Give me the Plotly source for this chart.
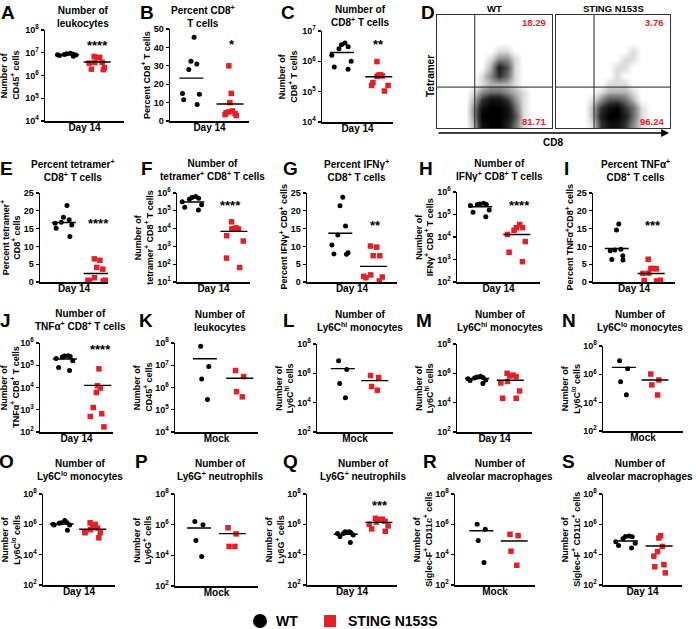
import plotly.graph_objects as go

W, H = 696, 629
RED = "#e41f26"
FONT = "Liberation Sans, Arial, Helvetica, sans-serif"

# ------------------------------------------------------------------
# Data (WT = black circles, STING N153S = red squares)
# *_mean : horizontal bar value for [WT, STING N153S]
# ------------------------------------------------------------------
A_wt = [9.6e6, 9.0e6, 8.7e6, 8.4e6, 8.2e6, 7.9e6, 7.5e6, 7.1e6]
A_mut = [6.9e6, 6.3e6, 6.0e6, 3.8e6, 3.7e6, 3.5e6, 2.2e6, 1.9e6, 1.8e6]
A_mean = [8.2e6, 3.9e6]

B_wt = [45.5, 32.5, 31, 28, 15, 14.5, 11.5, 9]
B_mut = [30, 15, 10, 5.5, 5, 4.5, 4, 3.5, 3]
B_mean = [23.3, 9.2]

C_wt = [4.0e6, 3.5e6, 3.0e6, 2.6e6, 1.6e6, 1.0e6, 6.5e5, 5.5e5]
C_mut = [9.8e5, 3.6e5, 3.3e5, 3.2e5, 3.5e5, 1.6e5, 1.6e5, 1.05e5, 2.0e5]
C_mean = [1.95e6, 3.1e5]

E_wt = [21.5, 18.2, 17.5, 16.8, 16.5, 16.0, 15.1, 12.8]
E_mut = [6.5, 6.1, 4.1, 3.6, 1.2, 0.5, 0.3, 0.3, 0.5]
E_mean = [16.7, 2.4]

F_wt = [5.6e5, 6.3e5, 5.0e5, 4.5e5, 3.2e5, 2.2e5, 1.6e5, 1.1e5]
F_mut = [2.4e4, 1.1e4, 9.5e3, 9.5e3, 1.0e4, 4.0e3, 2.0e3, 2.2e2, 6.5e1]
F_mean = [3.1e5, 7.0e3]

G_wt = [23.8, 21.4, 15.7, 13.2, 10.4, 8.2, 7.9, 7.8]
G_mut = [10.1, 9.8, 7.4, 7.4, 2.0, 1.6, 1.4, 1.2, 0.3]
G_mean = [13.7, 4.4]

H_wt = [3.2e5, 2.95e5, 2.8e5, 2.8e5, 2.5e5, 1.6e5, 1.25e5, 8.0e4]
H_mut = [3.6e4, 2.6e4, 2.6e4, 2.0e4, 1.3e4, 6.3e3, 2.1e3, 8.0e2]
H_mean = [2.2e5, 1.3e4]

I_wt = [16.3, 14.6, 9.2, 9.0, 8.8, 7.4, 6.3, 6.2]
I_mut = [6.4, 3.8, 3.8, 3.7, 2.5, 2.4, 0.5, 0.4, 0.3]
I_mean = [9.4, 2.4]

J_wt = [2.7e5, 2.6e5, 2.5e5, 2.35e5, 2.0e5, 1.6e5, 8.0e4, 5.8e4]
J_mut = [6.9e4, 1.2e4, 9.5e3, 6.0e3, 1.26e3, 6.6e2, 5.0e2, 1.7e2]
J_mean = [1.9e5, 1.25e4]

K_wt = [7.1e7, 8.7e6, 2.4e6, 2.9e5]
K_mut = [5.8e6, 3.1e6, 6.5e5, 3.8e5]
K_mean = [1.95e7, 2.6e6]

L_wt = [7.2e6, 1.8e6, 2.0e5, 2.2e4]
L_mut = [7.1e5, 5.2e5, 1.26e5, 7.1e4]
L_mean = [2.1e6, 3.2e5]

M_wt = [6.3e5, 5.6e5, 5.2e5, 4.8e5, 4.2e5, 3.5e5, 3.2e5, 2.0e5]
M_mut = [1.0e6, 7.6e5, 6.6e5, 6.0e5, 2.8e5, 2.2e5, 6.3e4, 2.0e4, 2.0e4]
M_mean = [4.4e5, 3.4e5]

N_wt = [9.1e6, 2.5e6, 3.0e5, 3.6e4]
N_mut = [1.05e6, 4.0e5, 1.8e5, 3.5e4]
N_mean = [3.1e6, 4.0e5]

O_wt = [1.8e6, 1.26e6, 1.2e6, 1.26e6, 1.0e6, 8.9e5, 8.9e5, 4.0e5]
O_mut = [1.26e6, 1.0e6, 6.3e5, 5.6e5, 4.5e5, 3.2e5, 2.8e5, 2.8e5, 1.3e5]
O_mean = [1.05e6, 4.7e5]

P_wt = [1.6e6, 1.0e6, 9.3e4, 8.3e3]
P_mut = [6.3e5, 2.5e5, 3.8e4, 3.8e4]
P_mean = [6.0e5, 2.6e5]

Q_wt = [3.2e5, 2.8e5, 2.5e5, 2.5e5, 3.2e5, 2.0e5, 1.6e5, 6.3e4]
Q_mut = [2.5e6, 2.2e6, 2.0e6, 1.6e6, 1.4e6, 1.0e6, 7.9e5, 5.0e5, 3.5e5]
Q_mean = [2.2e5, 1.35e6]

R_wt = [1.0e6, 4.7e5, 8.5e4, 3.0e3]
R_mut = [2.2e5, 1.8e5, 1.7e4, 2.0e3]
R_mean = [3.8e5, 8.0e4]

S_wt = [1.7e5, 1.5e5, 1.1e5, 1.6e5, 5.6e4, 2.8e4, 4.0e4, 7.1e4]
S_mut = [1.8e5, 1.26e5, 3.5e4, 1.6e4, 8.0e3, 2.2e3, 1.6e3, 6.3e2]
S_mean = [8.0e4, 3.7e4]

# Flow cytometry (panel D): event density on a 14 x 14 grid (rows top -> bottom, 0-9)
D_wt_density = [
    "00000000000000",
    "00000000000000",
    "00000000000000",
    "00000000000000",
    "00000001100000",
    "00000013310000",
    "00000027510000",
    "00000136410000",
    "00000122210000",
    "00001344321000",
    "00002688631000",
    "00003899841000",
    "00003999851000",
    "00002899741000",
]
D_mut_density = [
    "00000000000000",
    "00000000000000",
    "00000000000000",
    "00000000000000",
    "00000000010000",
    "00000000110000",
    "00000001100000",
    "00000001000000",
    "00000011100000",
    "00000122210000",
    "00001355420000",
    "00002689641000",
    "00002799741000",
    "00001688631000",
]
D_pct_wt = ["18.29", "81.71"]
D_pct_mut = ["3.76", "96.24"]

# ------------------------------------------------------------------
# Panel definitions (text + axis type)
# ------------------------------------------------------------------
S_ = "<sup>+</sup>"
panels = [
    dict(k="A", wt=A_wt, mut=A_mut, mean=A_mean, log=(4, 8, 1), grp="Day 14",
         yt="Number of<br>CD45" + S_ + " cells", t="Number of<br>leukocytes", st="****"),
    dict(k="B", wt=B_wt, mut=B_mut, mean=B_mean, lin=(0, 50, 10), grp="Day 14",
         yt="Percent CD8" + S_ + " T cells", t="Percent CD8" + S_ + "<br>T cells", st="*"),
    dict(k="C", wt=C_wt, mut=C_mut, mean=C_mean, log=(4, 7, 1), grp="Day 14",
         yt="Number of<br>CD8" + S_ + " T cells", t="Number of<br>CD8" + S_ + " T cells", st="**"),
    dict(k="E", wt=E_wt, mut=E_mut, mean=E_mean, lin=(0, 25, 5), grp="Day 14",
         yt="Percent tetramer" + S_ + "<br>CD8" + S_ + " cells",
         t="Percent tetramer" + S_ + "<br>CD8" + S_ + " T cells", st="****"),
    dict(k="F", wt=F_wt, mut=F_mut, mean=F_mean, log=(1, 6, 1), grp="Day 14",
         yt="Number of<br>tetramer" + S_ + " CD8" + S_ + " T cells",
         t="Number of<br>tetramer" + S_ + " CD8" + S_ + " T cells", st="****"),
    dict(k="G", wt=G_wt, mut=G_mut, mean=G_mean, lin=(0, 25, 5), grp="Day 14",
         yt="Percent IFNγ" + S_ + " CD8" + S_ + " cells",
         t="Percent IFNγ" + S_ + "<br>CD8" + S_ + " T cells", st="**"),
    dict(k="H", wt=H_wt, mut=H_mut, mean=H_mean, log=(2, 6, 1), grp="Day 14",
         yt="Number of<br>IFNγ" + S_ + " CD8" + S_ + " T cells",
         t="Number of<br>IFNγ" + S_ + " CD8" + S_ + " T cells", st="****"),
    dict(k="I", wt=I_wt, mut=I_mut, mean=I_mean, lin=(0, 25, 5), grp="Day 14",
         yt="Percent TNFα" + S_ + "CD8" + S_ + " cells",
         t="Percent TNFα" + S_ + "<br>CD8" + S_ + " T cells", st="***"),
    dict(k="J", wt=J_wt, mut=J_mut, mean=J_mean, log=(2, 6, 1), grp="Day 14",
         yt="Number of<br>TNFα" + S_ + " CD8" + S_ + " T cells",
         t="Number of<br>TNFα" + S_ + " CD8" + S_ + " T cells", st="****"),
    dict(k="K", wt=K_wt, mut=K_mut, mean=K_mean, log=(4, 8, 1), grp="Mock",
         yt="Number of<br>CD45" + S_ + " cells", t="Number of<br>leukocytes", st=""),
    dict(k="L", wt=L_wt, mut=L_mut, mean=L_mean, log=(2, 8, 2), grp="Mock",
         yt="Number of<br>Ly6C<sup>hi</sup> cells", t="Number of<br>Ly6C<sup>hi</sup> monocytes", st=""),
    dict(k="M", wt=M_wt, mut=M_mut, mean=M_mean, log=(2, 8, 2), grp="Day 14",
         yt="Number of<br>Ly6C<sup>hi</sup> cells", t="Number of<br>Ly6C<sup>hi</sup> monocytes", st=""),
    dict(k="N", wt=N_wt, mut=N_mut, mean=N_mean, log=(2, 8, 2), grp="Mock",
         yt="Number of<br>Ly6C<sup>lo</sup> cells", t="Number of<br>Ly6C<sup>lo</sup> monocytes", st=""),
    dict(k="O", wt=O_wt, mut=O_mut, mean=O_mean, log=(2, 8, 2), grp="Day 14",
         yt="Number of<br>Ly6C<sup>lo</sup> cells", t="Number of<br>Ly6C<sup>lo</sup> monocytes", st=""),
    dict(k="P", wt=P_wt, mut=P_mut, mean=P_mean, log=(2, 8, 2), grp="Mock",
         yt="Number of<br>Ly6G" + S_ + " cells", t="Number of<br>Ly6G" + S_ + " neutrophils", st=""),
    dict(k="Q", wt=Q_wt, mut=Q_mut, mean=Q_mean, log=(2, 8, 2), grp="Day 14",
         yt="Number of<br>Ly6G" + S_ + " cells", t="Number of<br>Ly6G" + S_ + " neutrophils", st="***"),
    dict(k="R", wt=R_wt, mut=R_mut, mean=R_mean, log=(2, 8, 2), grp="Mock",
         yt="Number of<br>Siglec-F" + S_ + " CD11c" + S_ + " cells",
         t="Number of<br>alveolar macrophages", st=""),
    dict(k="S", wt=S_wt, mut=S_mut, mean=S_mean, log=(2, 8, 2), grp="Day 14",
         yt="Number of<br>Siglec-F" + S_ + " CD11c" + S_ + " cells",
         t="Number of<br>alveolar macrophages", st=""),
]

# ------------------------------------------------------------------
# Layout geometry in pixels (style only)
# x0,x1: x-axis extent; yt,yb: top tick / axis line; f1,f2: group positions (fraction);
# tx,ty: title centre; lx,ly: panel letter; sx,sy: asterisks; qx: y-title centre
# ------------------------------------------------------------------
geom = {
    "A": dict(x0=45, x1=124, yt=30, yb=121, f1=.28, f2=.66, tx=83, ty=17, lx=8, ly=12, sx=97, sy=45, qx=10),
    "B": dict(x0=170, x1=249, yt=29, yb=121, f1=.27, f2=.76, tx=203, ty=17, lx=147, ly=12, sx=232, sy=44, qx=146),
    "C": dict(x0=322, x1=393, yt=31, yb=122, f1=.28, f2=.80, tx=360, ty=16, lx=288, ly=12, sx=378, sy=44, qx=288),
    "E": dict(x0=40, x1=108, yt=193, yb=282, f1=.35, f2=.84, tx=73, ty=170, lx=6, ly=168, sx=98, sy=224, qx=10),
    "F": dict(x0=177, x1=250, yt=193, yb=282, f1=.21, f2=.78, tx=213, ty=170, lx=147, ly=168, sx=230, sy=205, qx=143),
    "G": dict(x0=307, x1=397, yt=193, yb=282, f1=.37, f2=.74, tx=356, ty=170, lx=290, ly=168, sx=375, sy=225, qx=283),
    "H": dict(x0=457, x1=540, yt=192, yb=282, f1=.28, f2=.72, tx=500, ty=170, lx=426, ly=168, sx=519, sy=205, qx=424),
    "I": dict(x0=593, x1=675, yt=193, yb=282, f1=.29, f2=.71, tx=635, ty=170, lx=566, ly=168, sx=653, sy=225, qx=569),
    "J": dict(x0=40, x1=113, yt=343, yb=432, f1=.34, f2=.79, tx=80, ty=320, lx=5, ly=320, sx=100, sy=350, qx=9),
    "K": dict(x0=175, x1=258, yt=343, yb=432, f1=.36, f2=.78, tx=220, ty=321, lx=146, ly=320, qx=142),
    "L": dict(x0=317, x1=393, yt=344, yb=432, f1=.34, f2=.76, tx=360, ty=321, lx=289, ly=320, qx=284),
    "M": dict(x0=457, x1=532, yt=344, yb=432, f1=.27, f2=.71, tx=500, ty=321, lx=424, ly=320, qx=424),
    "N": dict(x0=603, x1=683, yt=346, yb=431, f1=.26, f2=.65, tx=640, ty=321, lx=569, ly=320, qx=570),
    "O": dict(x0=43, x1=115, yt=494, yb=585, f1=.26, f2=.69, tx=80, ty=470, lx=6, ly=461, qx=10),
    "P": dict(x0=175, x1=258, yt=494, yb=586, f1=.29, f2=.69, tx=220, ty=470, lx=141, ly=461, qx=142),
    "Q": dict(x0=307, x1=397, yt=494, yb=585, f1=.43, f2=.80, tx=363, ty=470, lx=290, ly=461, sx=380, sy=505, qx=274),
    "R": dict(x0=455, x1=535, yt=494, yb=585, f1=.33, f2=.74, tx=500, ty=470, lx=430, ly=461, qx=422),
    "S": dict(x0=603, x1=682, yt=494, yb=585, f1=.29, f2=.71, tx=640, ty=470, lx=568, ly=461, qx=570),
}
YT_LINE = 10.5  # spacing of the two lines of a y-axis title (px)


def px(x):
    return x / W


def py(y):
    return 1 - y / H


fig = go.Figure()
lay = {}
ann = []
shapes = []

bold = dict(family=FONT, color="black", weight="bold")


def label(text, x, y, size, xanchor="center", color="black", angle=0):
    return dict(text=text, x=px(x), y=py(y), xref="paper", yref="paper", showarrow=False,
                xanchor=xanchor, yanchor="middle", textangle=angle,
                font=dict(bold, size=size, color=color))


for i, p in enumerate(panels, start=1):
    g = geom[p["k"]]
    sfx = "" if i == 1 else str(i)
    xa, ya = "x" + sfx, "y" + sfx
    f1, f2 = g["f1"], g["f2"]
    r0 = 1 - f1 / (f2 - f1)
    r1 = 1 + (1 - f1) / (f2 - f1)
    unit = (f2 - f1) * (g["x1"] - g["x0"])  # px per category step
    n_wt = len(p["wt"])
    spread = 12 if n_wt > 5 else 5
    jw = 2 * spread / unit
    mw_wt = 24 / unit
    mw_mut = 27 / unit

    for pos, vals, col, sym, sz in [(1, p["wt"], "black", "circle", 5),
                                     (2, p["mut"], RED, "square", 5.5)]:
        fig.add_trace(go.Box(
            y=vals, x0=pos, width=jw, boxpoints="all", jitter=1, pointpos=0,
            marker=dict(color=col, size=sz, symbol=sym, line=dict(width=0)),
            line=dict(width=0, color="rgba(0,0,0,0)"), fillcolor="rgba(0,0,0,0)",
            whiskerwidth=0, hoverinfo="skip", showlegend=False, xaxis=xa, yaxis=ya))
    for pos, m, mw in [(1, p["mean"][0], mw_wt), (2, p["mean"][1], mw_mut)]:
        fig.add_trace(go.Box(
            x=[pos], q1=[m], median=[m], q3=[m], lowerfence=[m], upperfence=[m],
            width=mw, boxpoints=False, line=dict(color="black", width=1.4),
            fillcolor="rgba(0,0,0,0)", whiskerwidth=0, hoverinfo="skip",
            showlegend=False, xaxis=xa, yaxis=ya))

    xd = [px(g["x0"]), px(g["x1"])]
    yd = [py(g["yb"]), py(g["yt"])]
    lay["xaxis" + sfx] = dict(
        domain=xd, range=[r0, r1], anchor=ya, showline=True, linecolor="black",
        linewidth=1.5, showgrid=False, zeroline=False, ticks="", showticklabels=False,
        title=dict(text=p["grp"], font=dict(bold, size=10), standoff=2), fixedrange=True)
    ycfg = dict(domain=yd, anchor=xa, showline=True, linecolor="black", linewidth=1.5,
                showgrid=False, zeroline=False, ticks="outside", ticklen=3, tickwidth=1.3,
                tickcolor="black", tickfont=dict(bold, size=9), fixedrange=True)
    if "log" in p:
        lo, hi, st = p["log"]
        ycfg.update(type="log", range=[lo, hi],
                    tickvals=[10 ** k for k in range(lo, hi + 1, st)],
                    ticktext=["10<sup>%d</sup>" % k for k in range(lo, hi + 1, st)])
    else:
        lo, hi, st = p["lin"]
        ycfg.update(type="linear", range=[lo, hi], tick0=0, dtick=st)
    lay["yaxis" + sfx] = ycfg

    # y-axis title: one rotated annotation per line
    lines = p["yt"].split("<br>")
    n = len(lines)
    for kk, txt in enumerate(lines):
        cx = g["qx"] + (kk - (n - 1) / 2) * YT_LINE
        ann.append(label(txt, cx, (g["yt"] + g["yb"]) / 2, 9, angle=-90))
    ann.append(label(p["t"], g["tx"], g["ty"], 10))
    ann.append(label(p["k"], g["lx"], g["ly"], 19))
    if p["st"]:
        ann.append(label(p["st"], g["sx"], g["sy"], 13))

# ------------------------- panel D (flow plots) -------------------------
flow = [
    (D_wt_density, D_pct_wt, "WT", 437, 552, 4.1),
    (D_mut_density, D_pct_mut, "STING N153S", 556, 670, 4.17),
]
gate_row = 8.43
nA = len(panels)
for j, (dens, pct, name, bx0, bx1, gate_col) in enumerate(flow):
    idx = nA + 1 + j
    xa, ya = "x%d" % idx, "y%d" % idx
    z = [[int(c) for c in row] for row in dens]
    fig.add_trace(go.Heatmap(
        z=z, zmin=0, zmax=9, zsmooth="best", showscale=False, hoverinfo="skip",
        colorscale=[[0, "white"], [0.11, "#dcdcdc"], [0.33, "#8c8c8c"], [0.66, "#303030"],
                    [1, "black"]],
        xaxis=xa, yaxis=ya))
    lay["xaxis%d" % idx] = dict(domain=[px(bx0), px(bx1)], range=[-0.5, 13.5], anchor=ya,
                                showline=True, mirror=True, linecolor="#333", linewidth=1,
                                ticks="", showticklabels=False, showgrid=False, zeroline=False,
                                fixedrange=True)
    lay["yaxis%d" % idx] = dict(domain=[py(128), py(15)], range=[13.5, -0.5], anchor=xa,
                                showline=True, mirror=True, linecolor="#333", linewidth=1,
                                ticks="", showticklabels=False, showgrid=False, zeroline=False,
                                fixedrange=True)
    shapes.append(dict(type="line", xref=xa, yref=ya, x0=gate_col, x1=gate_col, y0=-0.5, y1=13.5,
                       line=dict(color="#222", width=1)))
    shapes.append(dict(type="line", xref=xa, yref=ya, x0=-0.5, x1=13.5, y0=gate_row, y1=gate_row,
                       line=dict(color="#222", width=1)))
    ann.append(label(name, (bx0 + bx1) / 2, 8, 9.5))
    ann.append(label(pct[0], bx1 - 4, 23, 9.5, xanchor="right", color=RED))
    ann.append(label(pct[1], bx1 - 4, 122, 9.5, xanchor="right", color=RED))

ann.append(label("D", 428, 12, 19))
ann.append(dict(text="", x=px(669), y=py(133), xref="paper", yref="paper", showarrow=True,
                ax=-232, ay=0, axref="pixel", ayref="pixel", arrowhead=2, arrowsize=1.2,
                arrowwidth=1.3, arrowcolor="black"))
ann.append(label("CD8", 553, 142, 10))
ann.append(label("Tetramer", 430, 76, 10, angle=-90))

# ------------------------- legend -------------------------
shapes.append(dict(type="circle", xref="paper", yref="paper", x0=px(253), x1=px(267),
                   y0=py(628), y1=py(614), fillcolor="black", line=dict(width=0)))
shapes.append(dict(type="rect", xref="paper", yref="paper", x0=px(324), x1=px(336),
                   y0=py(627), y1=py(615), fillcolor=RED, line=dict(width=0)))
ann.append(label("WT", 274, 621, 14, xanchor="left"))
ann.append(label("STING N153S", 346, 621, 14, xanchor="left"))

fig.update_layout(
    width=W, height=H, margin=dict(l=0, r=0, t=0, b=0, autoexpand=False),
    paper_bgcolor="white", plot_bgcolor="rgba(0,0,0,0)", showlegend=False,
    font=dict(family=FONT, color="black"), annotations=ann, shapes=shapes, **lay)

fig.write_html("out.html", config={"displayModeBar": False, "staticPlot": True},
               post_script="document.body.style.margin='0px';document.body.style.overflow='hidden';")
